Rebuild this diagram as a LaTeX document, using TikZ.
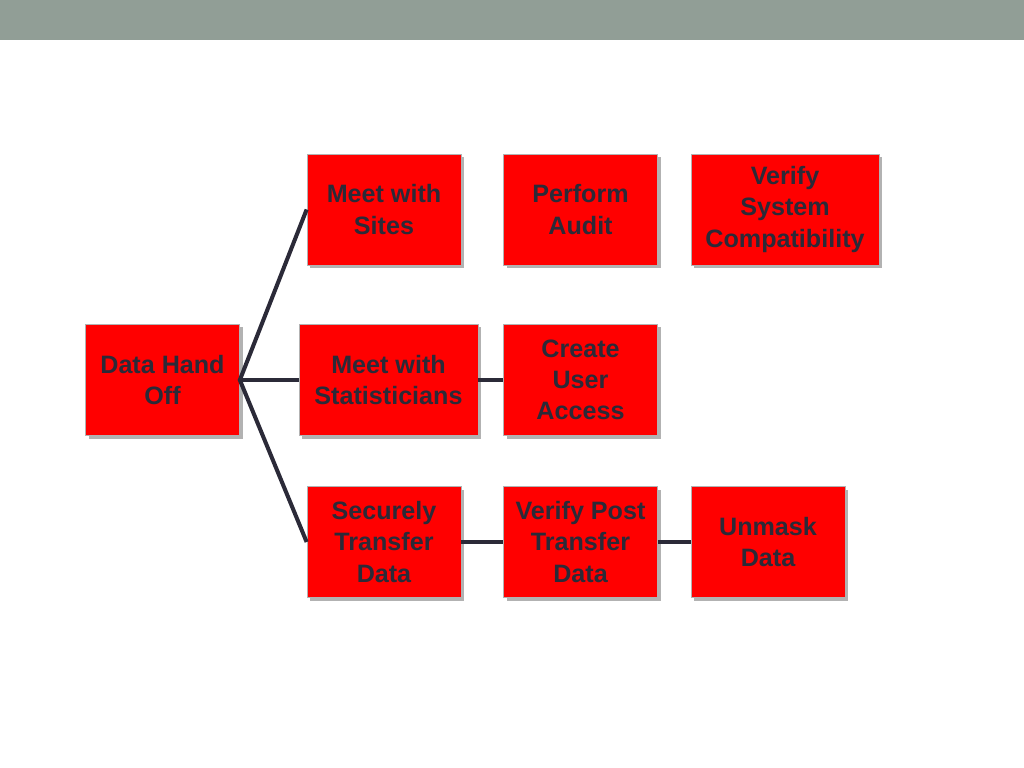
\documentclass[tikz,border=0pt]{standalone}
\usepackage{fontspec}
\setmainfont{Liberation Sans}
\usetikzlibrary{positioning, shadows}

\definecolor{barGray}{HTML}{919E96}
\definecolor{boxRed}{HTML}{FF0000}
\definecolor{inkDark}{HTML}{2B2A38}

\begin{document}
\begin{tikzpicture}[
      task/.style={draw=gray!60, line width=0.4pt, fill=boxRed,
        minimum height=2.22cm, minimum width=3.08cm, align=center,
        inner sep=2pt, text=inkDark,
        font=\fontsize{14.3}{17.7}\selectfont\bfseries,
        drop shadow={shadow xshift=0.06cm, shadow yshift=-0.06cm,
          fill=black, opacity=0.3}},
      link/.style={draw=inkDark, line width=2.3pt}]
    \useasboundingbox (0,0) rectangle (20.48,-15.36);
    \fill[barGray] (0,0) rectangle (20.48,-0.8);

    \node[task] (handoff) at (3.25,-7.6) {Data Hand\\Off};
    \node[task] (sites) at (7.68,-4.19) {Meet with\\Sites};
    \node[task] (audit) at (11.61,-4.19) {Perform\\Audit};
    \node[task, minimum width=3.76cm] (compat) at (15.7,-4.19)
      {Verify\\System\\Compatibility};
    \node[task, minimum width=3.58cm] (stats) at (7.77,-7.6)
      {Meet with\\Statisticians};
    \node[task] (access) at (11.61,-7.6) {Create\\User\\Access};
    \node[task] (transfer) at (7.68,-10.84) {Securely\\Transfer\\Data};
    \node[task] (postcheck) at (11.61,-10.84) {Verify Post\\Transfer\\Data};
    \node[task] (unmask) at (15.36,-10.84) {Unmask\\Data};

    \draw[link] (sites.west) -- (handoff.east) -- (transfer.west);
    \draw[link] (handoff.east) -- (stats.west);
    \draw[link] (stats) -- (access);
    \draw[link] (transfer) -- (postcheck);
    \draw[link] (postcheck) -- (unmask);
  \end{tikzpicture}
\end{document}
